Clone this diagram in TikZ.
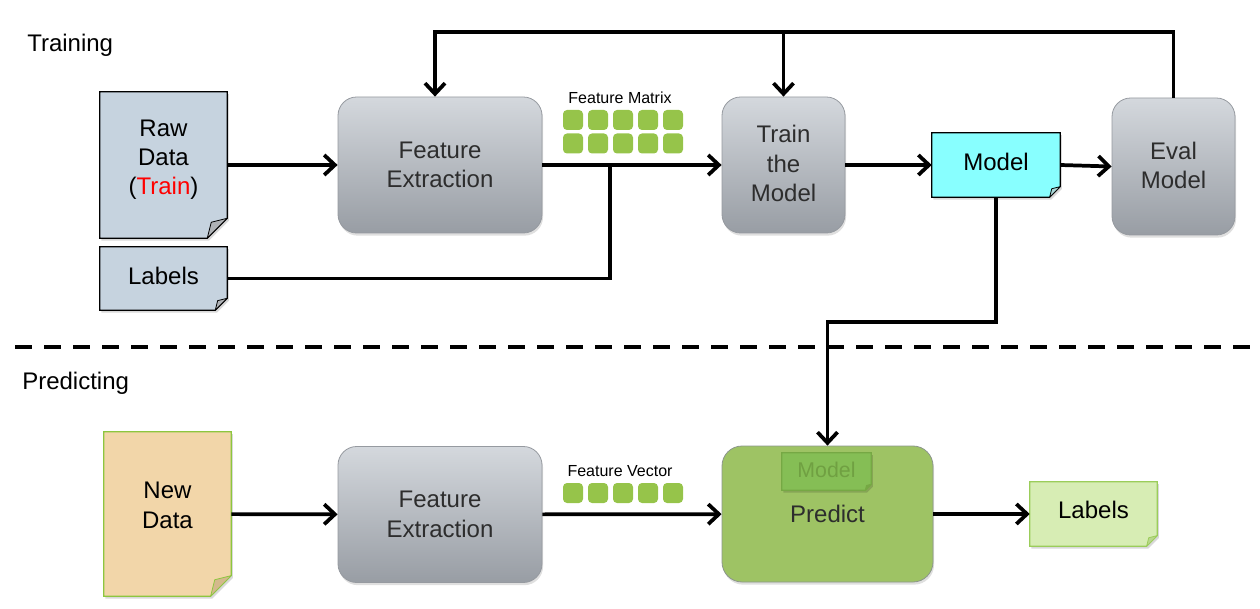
\documentclass[tikz,border=0pt]{standalone}
\usepackage{fontspec}
\setmainfont{Liberation Sans}
\usetikzlibrary{arrows.meta,shadows,calc}
\pgfdeclarelayer{bottom}
\pgfdeclarelayer{background}
\pgfsetlayers{bottom,background,main}
\definecolor{boxtop}{RGB}{212,216,221}
\definecolor{boxbot}{RGB}{152,157,164}
\definecolor{boxborder}{RGB}{150,154,160}
\definecolor{boxtext}{RGB}{45,45,45}
\definecolor{rawfill}{RGB}{198,211,223}
\definecolor{rawflap}{RGB}{175,178,182}
\definecolor{modelfill}{RGB}{136,255,255}
\definecolor{modelflap}{RGB}{170,215,215}
\definecolor{newfill}{RGB}{242,214,169}
\definecolor{newflap}{RGB}{212,185,140}
\definecolor{newborder}{RGB}{141,198,63}
\definecolor{outfill}{RGB}{215,237,180}
\definecolor{outflap}{RGB}{185,215,140}
\definecolor{outborder}{RGB}{155,205,90}
\definecolor{predfill}{RGB}{158,195,100}
\definecolor{predborder}{RGB}{140,150,140}
\definecolor{innerfill}{RGB}{133,190,85}
\definecolor{innerborder}{RGB}{118,168,68}
\definecolor{innertext}{RGB}{112,160,66}
\definecolor{sqgreen}{RGB}{150,196,74}
\newcommand\docshape[5]{%
\begin{pgfonlayer}{background}
\fill[black,opacity=0.15] ([xshift=1.2pt,yshift=-1.8pt]#1.north west) -- ([xshift=1.2pt,yshift=-1.8pt]#1.north east) -- ([xshift=1.2pt,yshift=#2-1.8pt]#1.south east) -- ([xshift=1.2pt-#2,yshift=-1.8pt]#1.south east) -- ([xshift=1.2pt,yshift=-1.8pt]#1.south west) -- cycle;
\filldraw[fill=#3,draw=#4,line width=0.8pt] (#1.north west) -- (#1.north east) -- ([yshift=#2]#1.south east) -- ([xshift=-#2]#1.south east) -- (#1.south west) -- cycle;
\filldraw[fill=#5,draw=#4,line width=0.6pt,line join=round] ([yshift=#2]#1.south east) -- ([xshift=-#2]#1.south east) -- ([xshift=-0.8*#2,yshift=0.8*#2]#1.south east) -- cycle;
\end{pgfonlayer}}
\newcommand\upby[2]{\raisebox{#1}[\height][\depth]{\begin{tabular}{@{}c@{}}#2\end{tabular}}}
\tikzset{
  big/.style={font=\fontsize{18}{22}\selectfont},
  small/.style={font=\fontsize{12}{14}\selectfont},
  graybox/.style={big,rounded corners=14pt,draw=boxborder,line width=0.6pt,
    top color=boxtop,bottom color=boxbot,text=boxtext,align=center,inner sep=0pt,
    drop shadow={shadow xshift=0.8pt,shadow yshift=-2pt,opacity=0.25}},
  docnode/.style={big,inner sep=0pt,align=center},
  sq/.style={fill=sqgreen,rounded corners=3pt,minimum size=15pt,inner sep=0pt},
  conn/.style={line width=2.8pt,draw=black},
  arr/.style={-{Straight Barb[length=8pt,width=15pt]}},
  dashline/.style={line width=3.2pt,dash pattern=on 12.75pt off 9pt}
}
\begin{document}
\begin{tikzpicture}[x=0.75pt,y=-0.75pt]
\useasboundingbox (0,0) rectangle (1260,609);
% section labels
\node[big,anchor=base west,inner sep=0pt] (trainlbl) at (27,52) {Training};
\node[big,anchor=base west,inner sep=0pt] (predlbl) at (22,390) {Predicting};
% training row
\node[docnode,minimum width=95.25pt,minimum height=109.5pt] (raw) at (163.5,165) {\upby{4pt}{Raw\\Data\\(\textcolor{red}{Train})}};
\docshape{raw}{15pt}{rawfill}{black}{rawflap}
\node[docnode,minimum width=95.25pt,minimum height=47.25pt] (lab) at (163.5,278.5) {\upby{0pt}{Labels}};
\docshape{lab}{9pt}{rawfill}{black}{rawflap}
\node[graybox,minimum width=153pt,minimum height=102pt] (fe) at (440,165) {Feature\\Extraction};
\node[graybox,minimum width=92.25pt,minimum height=102pt] (train) at (783.5,165) {\upby{-0.9pt}{Train\\the\\Model}};
\node[docnode,minimum width=96pt,minimum height=48pt] (model) at (996,165) {\upby{0.5pt}{Model}};
\docshape{model}{8pt}{modelfill}{black}{modelflap}
\node[graybox,minimum width=92.25pt,minimum height=102.75pt] (eval) at (1173.5,166.5) {\upby{-1.4pt}{Eval\\Model}};
\node[small] (fmlbl) at (620,98) {Feature Matrix};
\foreach \i in {1,...,5} \foreach \j in {1,2} \node[sq] (fm\i\j) at ({548+25*\i},{96.5+23.5*\j}) {};
% connectors training
\coordinate (junc) at (610,165);
\draw[conn,arr] (raw) -- (fe);
\draw[conn,arr] (fe) -- (train);
\draw[conn] (lab.east) -| (junc);
\draw[conn,arr] (train) -- (model);
\draw[conn,arr] (model.east) -- (eval.west);
\coordinate (loopR) at (1173.5,32);
\coordinate (loopL) at (435,32);
\draw[conn,arr] (eval.north) -- (loopR) -- (loopL) -- (loopL |- fe.north);
\draw[conn,arr] (train.north |- loopR) -- (train.north);
% dashed separator
\coordinate (dl) at (15,347);
\coordinate (dr) at (1258,347);
\draw[dashline] (dl) -- (dr);
% predicting row
\node[docnode,minimum width=95.25pt,minimum height=123pt] (nd) at (167.5,514) {\upby{4.9pt}{New\\Data}};
\docshape{nd}{15.5pt}{newfill}{newborder}{newflap}
\node[graybox,minimum width=153pt,minimum height=102pt] (fe2) at (440,514.5) {Feature\\Extraction};
\begin{pgfonlayer}{bottom}
\node[big,rounded corners=15pt,draw=predborder,line width=0.6pt,fill=predfill,text=boxtext,
  minimum width=158.25pt,minimum height=102pt,inner sep=0pt,
  drop shadow={shadow xshift=0.8pt,shadow yshift=-2pt,opacity=0.25}] (pred) at (827.5,514) {\raisebox{1pt}{Predict}};
\end{pgfonlayer}
\node[docnode,font=\fontsize{16}{18}\selectfont,text=innertext,minimum width=66.75pt,minimum height=27.75pt] (inmodel) at (826.5,471.5) {\upby{-0.8pt}{Model}};
\docshape{inmodel}{4.5pt}{innerfill}{innerborder}{innerborder}
\node[docnode,minimum width=95.25pt,minimum height=48pt] (lab2) at (1093.5,514) {\upby{0.75pt}{Labels}};
\docshape{lab2}{8pt}{outfill}{outborder}{outflap}
\node[small] (fvlbl) at (620,471) {Feature Vector};
\foreach \i in {1,...,5} \node[sq] (fv\i) at ({548+25*\i},493) {};
% connectors predicting
\coordinate (bend) at (996,322);
\draw[conn,arr] (model.south) -- (bend) -| (pred.north);
\draw[conn,arr] (nd) -- (fe2);
\draw[conn,arr] (fe2) -- (pred);
\draw[conn,arr] (pred) -- (lab2);
\end{tikzpicture}
\end{document}
